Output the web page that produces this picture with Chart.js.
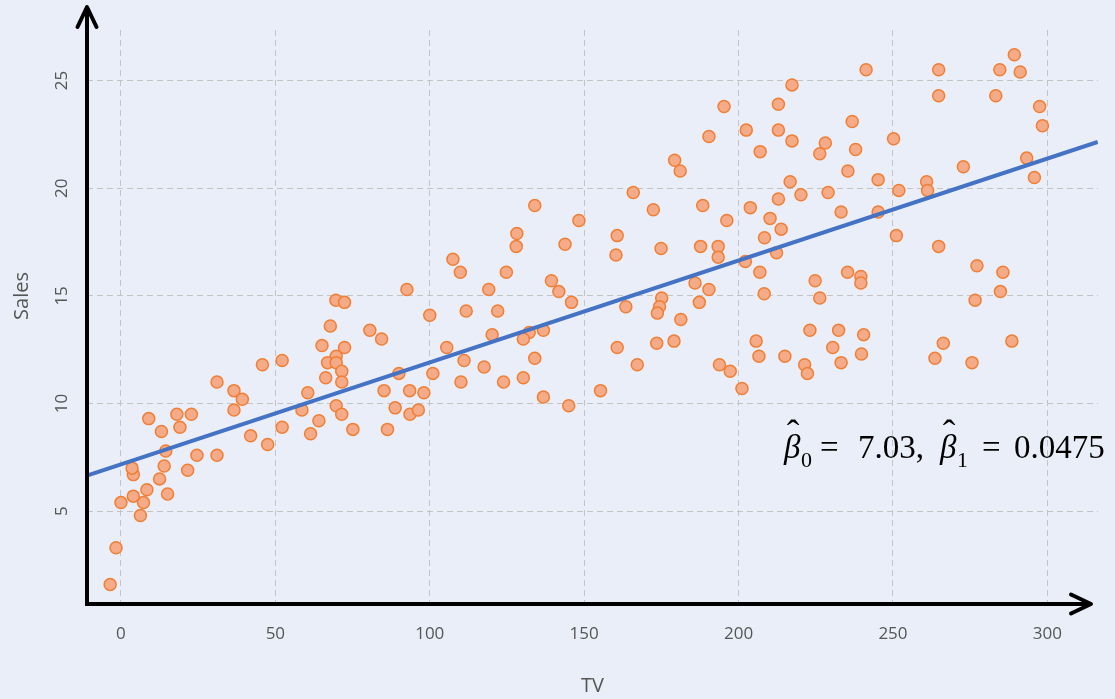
<!DOCTYPE html>
<html>
<head>
<meta charset="utf-8">
<script src="https://cdn.jsdelivr.net/npm/chart.js@4.4.1/dist/chart.umd.min.js"></script>
<style>
  html, body { margin: 0; padding: 0; background: #eaeef8; }
  #wrap { position: relative; width: 1115px; height: 699px; }
</style>
</head>
<body>
<div id="wrap"><canvas id="c"></canvas></div>
<script>
// TV advertising budget (x) and Sales (y)
const tvValues = [
  -3.5,-1.6,0.0,4.0,6.3,7.3,8.4,15.1,12.5,14.0,4.0,3.6,14.5,21.6,24.6,31.1,9.0,13.1,18.1,19.1,
  22.8,31.1,36.6,39.3,36.6,42.0,47.5,45.8,52.2,52.2,58.6,61.4,64.1,60.5,65.1,69.7,66.9,69.7,66.3,69.7,
  69.6,72.4,67.8,72.4,71.5,71.5,71.5,75.1,80.6,84.4,92.6,90.0,85.2,93.5,98.1,88.8,93.6,96.3,86.3,100.0,
  101.0,105.5,107.5,109.9,111.8,111.1,110.1,
  119.1,117.6,120.2,122.0,123.9,124.8,128.2,128.0,132.2,130.3,134.0,130.3,136.8,134.0,136.8,139.4,141.8,143.8,145.9,148.3,
  145.0,155.3,160.7,163.5,160.3,160.7,167.2,165.9,
  172.4,174.9,175.1,174.4,173.7,173.5,179.1,181.3,179.3,181.1,185.9,187.3,190.4,187.7,188.4,190.4,195.3,193.4,193.4,196.2,
  193.8,197.3,201.1,202.5,207.0,203.8,210.2,208.4,202.2,206.9,208.3,205.7,206.6,
  217.3,212.9,212.9,217.3,216.7,212.9,220.2,213.8,212.3,228.1,226.3,236.8,237.9,241.3,235.4,229.0,233.2,245.2,245.2,250.2,
  251.9,251.1,260.9,261.2,235.3,239.6,239.6,224.8,226.3,223.1,232.4,240.5,230.5,239.8,233.2,215.0,221.4,222.3,
  264.8,264.8,284.6,289.3,291.2,283.3,297.5,298.4,293.3,272.8,295.8,264.8,277.2,285.6,284.8,276.6,266.3,263.6,288.5,275.6
];
const salesValues = [
  1.6,3.3,5.4,5.7,4.8,5.4,6.0,5.8,6.5,7.1,6.7,7.0,7.8,6.9,7.6,7.6,9.3,8.7,9.5,8.9,
  9.5,11.0,10.6,10.2,9.7,8.5,8.1,11.8,12.0,8.9,9.7,8.6,9.2,10.5,12.7,12.2,11.9,11.9,11.2,9.9,
  14.8,14.7,13.6,12.6,11.5,11.0,9.5,8.8,13.4,13.0,15.3,11.4,10.6,10.6,10.5,9.8,9.5,9.7,8.8,14.1,
  11.4,12.6,16.7,16.1,14.3,12.0,11.0,
  15.3,11.7,13.2,14.3,11.0,16.1,17.9,17.3,13.3,13.0,12.1,11.2,13.4,19.2,10.3,15.7,15.2,17.4,14.7,18.5,
  9.9,10.6,12.6,14.5,16.9,17.8,11.8,19.8,
  19.0,17.2,14.9,14.5,14.2,12.8,12.9,13.9,21.3,20.8,15.6,14.7,15.3,17.3,19.2,22.4,23.8,17.3,16.8,18.5,
  11.8,11.5,10.7,22.7,21.7,19.1,18.6,17.7,16.6,16.1,15.1,12.9,12.2,
  24.8,23.9,22.7,22.2,20.3,19.5,19.7,18.1,17.0,22.1,21.6,23.1,21.8,25.5,20.8,19.8,18.9,20.4,18.9,22.3,
  19.9,17.8,20.3,19.9,16.1,15.9,15.6,15.7,14.9,13.4,13.4,13.2,12.6,12.3,11.9,12.2,11.8,11.4,
  25.5,24.3,25.5,26.2,25.4,24.3,23.8,22.9,21.4,21.0,20.5,17.3,16.4,16.1,15.2,14.8,12.8,12.1,12.9,11.9
];
// fitted line end points
const fitX = [-10.8, 316.3];
const fitY = [6.66, 22.15];
// axis ticks
const xTickStep = 50;
const yTickStep = 5;
const xTitle = 'TV';
const yTitle = 'Sales';
const annotationParts = { b0: '7.03', b1: '0.0475' };

const BG = '#eaeef8';
const TICK_COLOR = '#555555';

const decor = {
  id: 'decor',
  beforeDraw(chart) {
    const ctx = chart.ctx;
    ctx.save();
    ctx.fillStyle = BG;
    ctx.fillRect(0, 0, chart.width, chart.height);
    ctx.restore();
  },
  afterDraw(chart) {
    const ctx = chart.ctx;
    const a = chart.chartArea;
    ctx.save();
    // axes with arrows
    ctx.strokeStyle = '#000';
    ctx.lineWidth = 4;
    ctx.lineJoin = 'miter';
    ctx.lineCap = 'butt';
    const tipY = a.top - 23;
    const tipX = a.right - 7;
    ctx.beginPath();
    ctx.moveTo(a.left, tipY);
    ctx.lineTo(a.left, a.bottom);
    ctx.lineTo(tipX, a.bottom);
    ctx.stroke();
    ctx.lineCap = 'round';
    ctx.lineJoin = 'round';
    ctx.beginPath();
    ctx.moveTo(a.left - 9.5, tipY + 20);
    ctx.lineTo(a.left, tipY);
    ctx.lineTo(a.left + 9.5, tipY + 20);
    ctx.stroke();
    ctx.beginPath();
    ctx.moveTo(tipX - 20, a.bottom - 9.5);
    ctx.lineTo(tipX, a.bottom);
    ctx.lineTo(tipX - 20, a.bottom + 9.5);
    ctx.stroke();

    // y-axis title
    ctx.save();
    ctx.translate(22, 296);
    ctx.rotate(-Math.PI / 2);
    ctx.fillStyle = TICK_COLOR;
    ctx.font = '20px "Open Sans"';
    ctx.textAlign = 'center';
    ctx.textBaseline = 'middle';
    ctx.fillText(yTitle, 0, 0);
    ctx.restore();

    // annotation
    ctx.fillStyle = '#000';
    ctx.textBaseline = 'alphabetic';
    ctx.textAlign = 'left';
    const base = 458;
    const big = '33px "Liberation Serif"';
    const bigIt = 'italic 33px "Liberation Serif"';
    const sub = '22px "Liberation Serif"';
    const hatFont = '38px "Liberation Serif"';
    function beta(x, s) {
      ctx.font = bigIt; ctx.textAlign = 'left';
      ctx.fillText('\u03B2', x, base);
      ctx.font = hatFont; ctx.textAlign = 'center';
      ctx.fillText('\u02C6', x + 9, base - 12);
      ctx.font = sub; ctx.textAlign = 'left';
      ctx.fillText(s, x + 17, base + 9);
    }
    beta(784, '0');
    ctx.font = big; ctx.textAlign = 'left';
    ctx.fillText('=', 820, base);
    ctx.fillText(annotationParts.b0 + ',', 858, base);
    beta(940, '1');
    ctx.font = big; ctx.textAlign = 'left';
    ctx.fillText('=', 982, base);
    ctx.fillText(annotationParts.b1, 1014, base);
    ctx.restore();
  }
};

const points = tvValues.map((x, i) => ({ x: x, y: salesValues[i] }));
const fitLine = fitX.map((x, i) => ({ x: x, y: fitY[i] }));

new Chart(document.getElementById('c'), {
  type: 'scatter',
  data: {
    datasets: [
      {
        label: 'fit',
        data: fitLine,
        showLine: true,
        borderColor: '#4472c4',
        borderWidth: 4,
        pointRadius: 0,
        order: 0
      },
      {
        label: 'Sales',
        data: points,
        pointRadius: 6,
        pointBackgroundColor: '#f6ab88',
        pointBorderColor: '#f07f35',
        pointBorderWidth: 1.5,
        order: 1
      }
    ]
  },
  options: {
    responsive: true,
    maintainAspectRatio: false,
    animation: false,
    layout: { padding: { left: 0, top: 30, right: 17, bottom: 0 } },
    plugins: { legend: { display: false }, tooltip: { enabled: false } },
    scales: {
      x: {
        type: 'linear',
        min: -11,
        max: 316.4,
        afterFit(scale) { scale.height = 95; },
        ticks: {
          stepSize: xTickStep,
          includeBounds: false,
          color: TICK_COLOR,
          font: { family: 'Open Sans', size: 17 },
          padding: 20,
          maxRotation: 0
        },
        grid: { color: '#c4c4c4', lineWidth: 1, drawTicks: false },
        border: { display: false, dash: [6, 4] },
        title: {
          display: true,
          text: xTitle,
          color: TICK_COLOR,
          font: { family: 'Open Sans', size: 20 },
          padding: { top: 0, bottom: 1 }
        }
      },
      y: {
        type: 'linear',
        min: 0.69,
        max: 27.35,
        afterFit(scale) { scale.width = 87; },
        ticks: {
          stepSize: yTickStep,
          includeBounds: false,
          color: TICK_COLOR,
          font: { family: 'Open Sans', size: 17 },
          padding: 15,
          minRotation: 90,
          maxRotation: 90,
          crossAlign: 'center'
        },
        grid: { color: '#c4c4c4', lineWidth: 1, drawTicks: false },
        border: { display: false, dash: [6, 4] }
      }
    }
  },
  plugins: [decor]
});
</script>
</body>
</html>
